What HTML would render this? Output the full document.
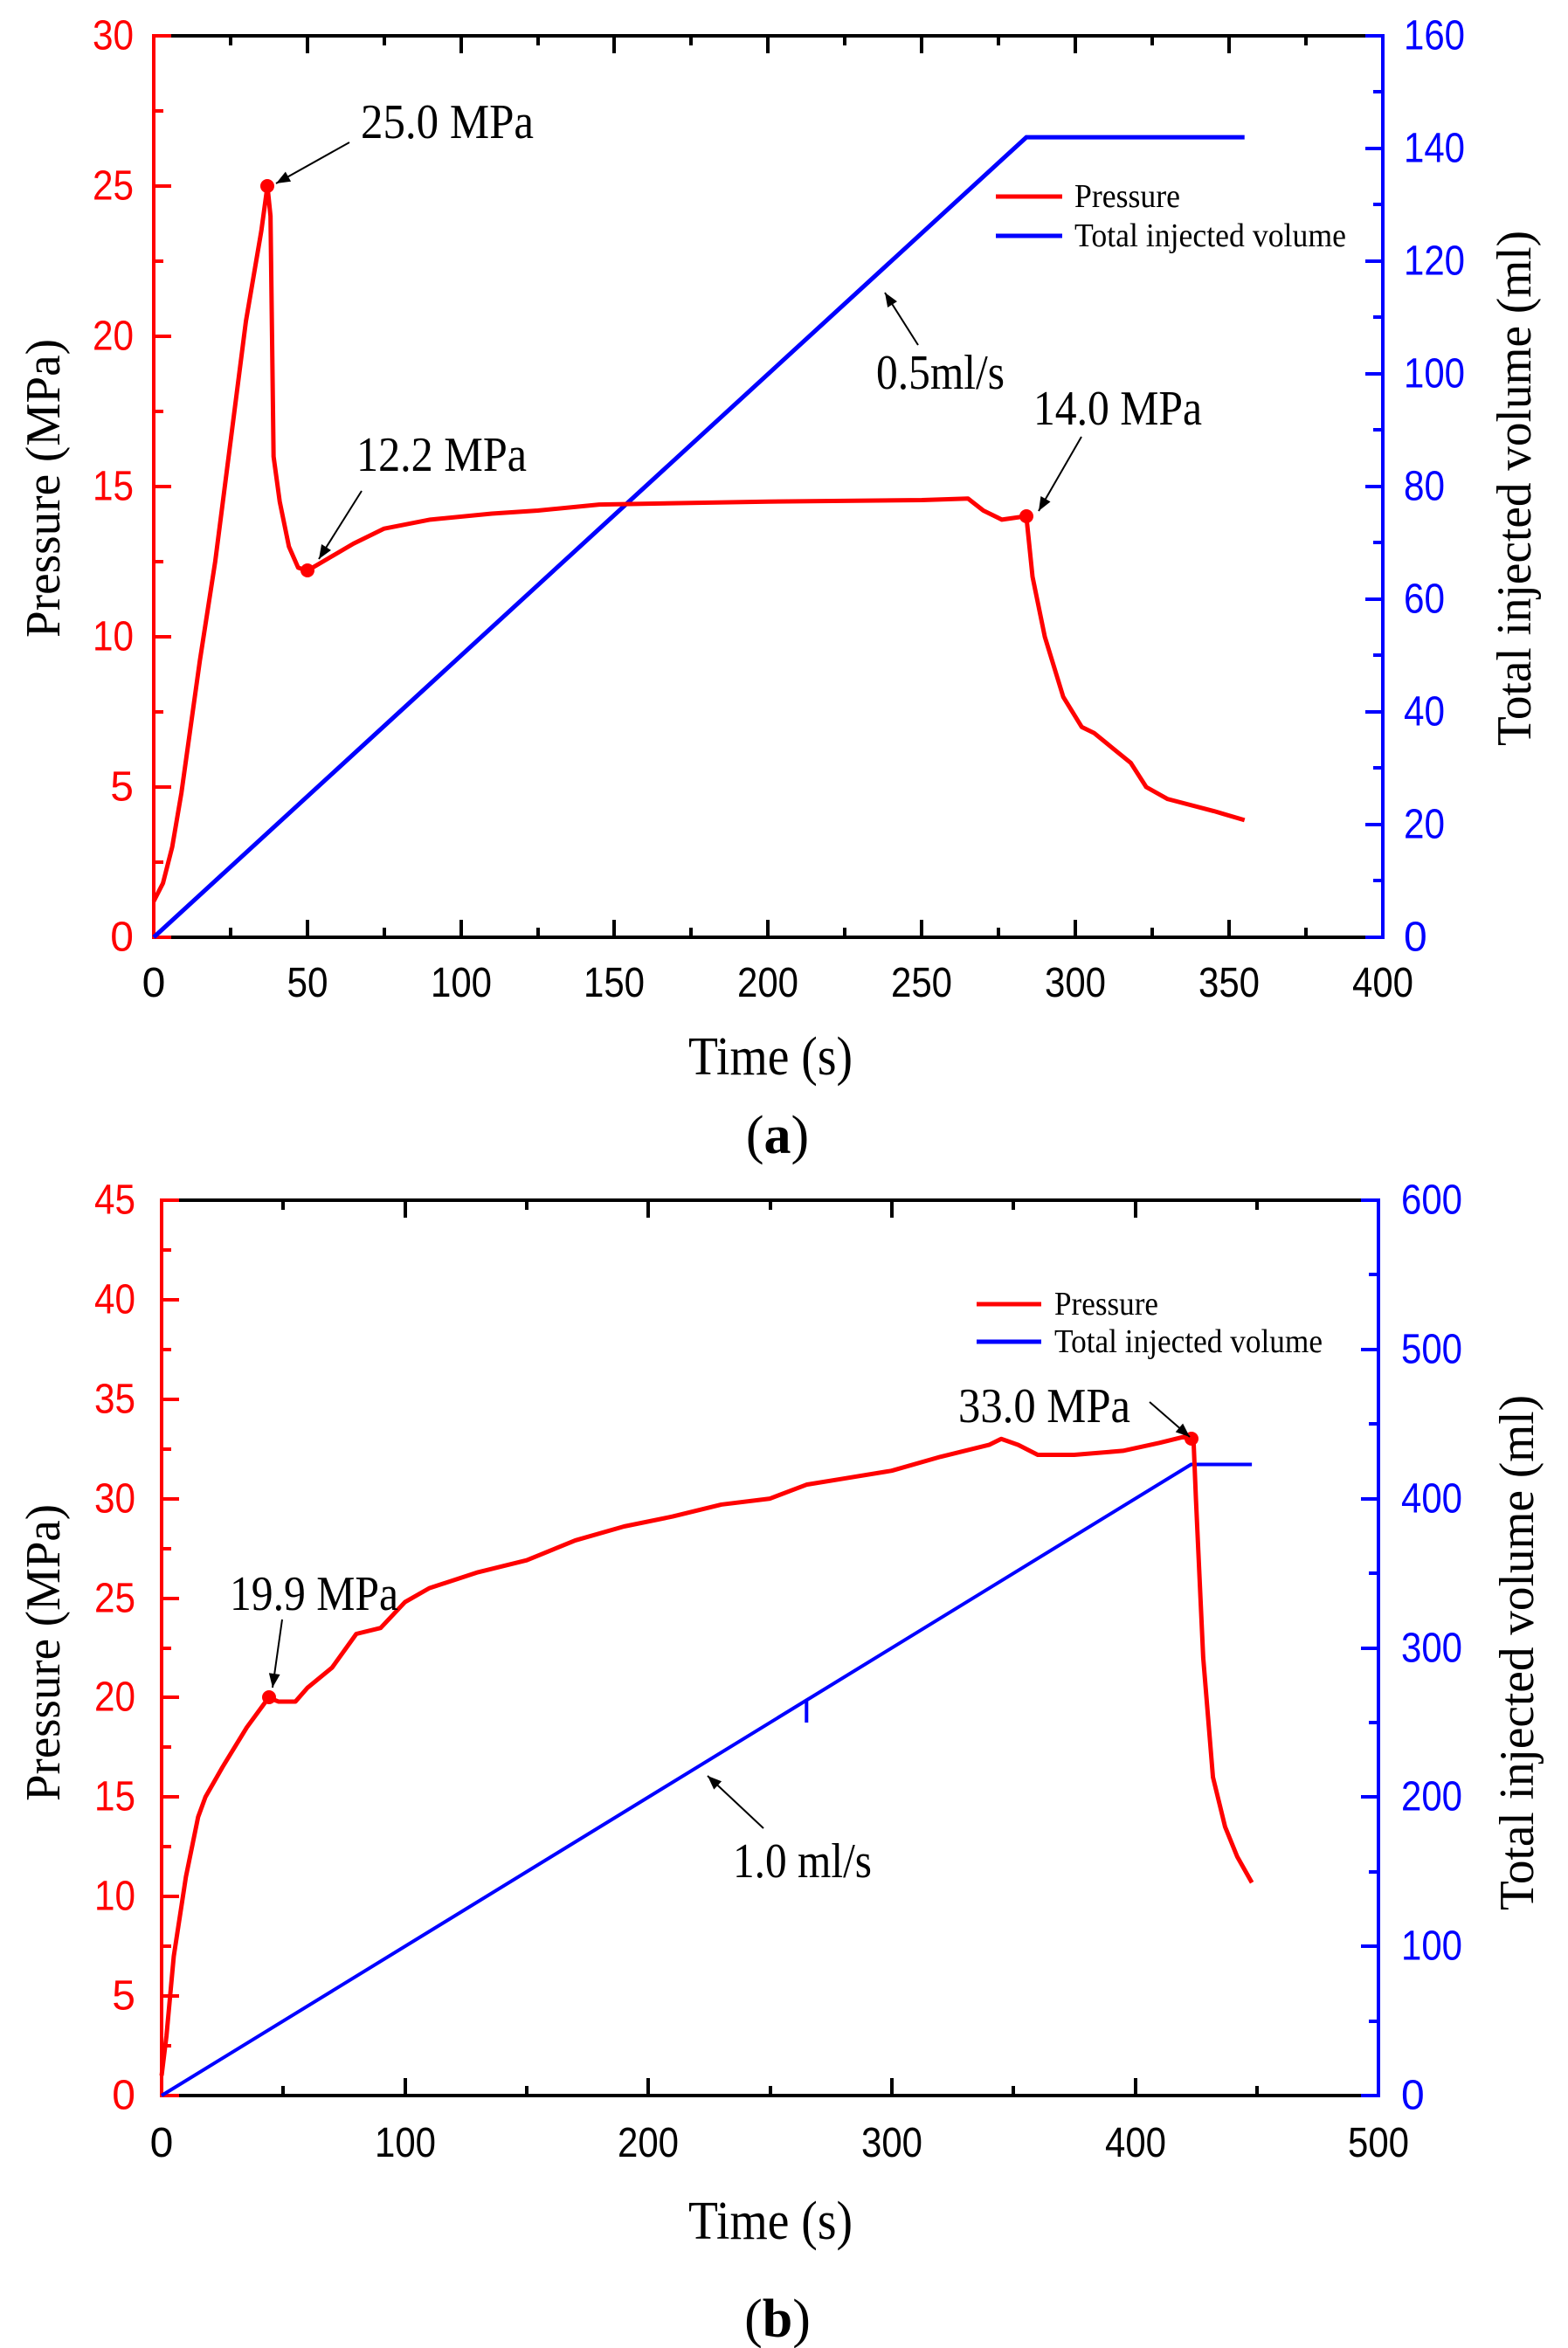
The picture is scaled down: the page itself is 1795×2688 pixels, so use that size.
<!DOCTYPE html>
<html><head><meta charset="utf-8"><style>
html,body{margin:0;padding:0;background:#fff;}
svg{display:block;}
.tk{font-family:"Liberation Sans",Arial,sans-serif;font-size:48px;}
.tt{font-family:"Liberation Serif","Times New Roman",serif;}
</style></head><body>
<svg width="1795" height="2688" viewBox="0 0 1795 2688" xmlns="http://www.w3.org/2000/svg">
<defs>
<marker id="ah2" viewBox="0 0 10 10" refX="10" refY="5" markerWidth="24" markerHeight="16" orient="auto" markerUnits="userSpaceOnUse"><path d="M0,1 L10,5 L0,9 z" fill="#000"/></marker>
</defs>

<!-- ================= CHART A ================= -->
<g stroke-width="4" fill="none">
<line x1="176" y1="41" x2="1583" y2="41" stroke="#000"/>
<line x1="176" y1="1073" x2="1583" y2="1073" stroke="#000"/>
<line x1="176" y1="39" x2="176" y2="1075" stroke="#f00"/>
<line x1="1583" y1="39" x2="1583" y2="1075" stroke="#00f"/>
<path stroke="#000" d="M352,1073v-20M528,1073v-20M703,1073v-20M879,1073v-20M1055,1073v-20M1231,1073v-20M1407,1073v-20
M264,1073v-11M440,1073v-11M616,1073v-11M791,1073v-11M967,1073v-11M1143,1073v-11M1319,1073v-11M1495,1073v-11
M352,41v20M528,41v20M703,41v20M879,41v20M1055,41v20M1231,41v20M1407,41v20
M264,41v11M440,41v11M616,41v11M791,41v11M967,41v11M1143,41v11M1319,41v11M1495,41v11"/>
<path stroke="#f00" d="M176,901h20M176,729h20M176,557h20M176,385h20M176,213h20M176,41h20M176,1073h20
M176,987h11M176,815h11M176,643h11M176,471h11M176,299h11M176,127h11"/>
<path stroke="#00f" d="M1583,944h-20M1583,815h-20M1583,686h-20M1583,557h-20M1583,428h-20M1583,299h-20M1583,170h-20M1583,41h-20M1583,1073h-20
M1583,1008h-11M1583,879h-11M1583,750h-11M1583,621h-11M1583,492h-11M1583,363h-11M1583,234h-11M1583,105h-11"/>
</g>
<polyline transform="matrix(3.5175 0 0 -6.45 176 1073)" vector-effect="non-scaling-stroke" fill="none" stroke="#00f" stroke-width="5" points="0,0 284,142 355,142"/>
<polyline transform="matrix(3.5175 0 0 -34.4 176 1073)" vector-effect="non-scaling-stroke" fill="none" stroke="#f00" stroke-width="5" stroke-linejoin="round" points="0,1.2 3,1.8 6,3 9,4.8 12,7 15,9.2 20,12.5 25,16.5 30,20.5 35,23.5 37,25 38,24 39,16 41,14.5 44,13 47,12.3 50,12.2 55,12.5 65,13.1 75,13.6 90,13.9 110,14.1 125,14.2 145,14.4 200,14.5 250,14.55 265,14.6 270,14.2 276,13.9 283,14.0 284,14.0 286,12 290,10 296,8 302,7 306,6.8 312,6.3 318,5.8 323,5.0 330,4.6 345,4.2 355,3.9"/>
<g fill="#f00"><circle cx="306" cy="213" r="8"/><circle cx="352" cy="653" r="8"/><circle cx="1175" cy="591" r="8"/></g>
<g stroke="#000" stroke-width="2" fill="none">
<line x1="400" y1="163" x2="316" y2="210" marker-end="url(#ah2)"/>
<line x1="414" y1="562" x2="365" y2="640" marker-end="url(#ah2)"/>
<line x1="1238" y1="500" x2="1189" y2="585" marker-end="url(#ah2)"/>
<line x1="1051" y1="395" x2="1013" y2="335" marker-end="url(#ah2)"/>
</g>
<g class="tt" font-size="56" fill="#000" lengthAdjust="spacingAndGlyphs">
<text x="413" y="158" textLength="198" lengthAdjust="spacingAndGlyphs">25.0 MPa</text>
<text x="408" y="539" textLength="195" lengthAdjust="spacingAndGlyphs">12.2 MPa</text>
<text x="1183" y="486" textLength="193" lengthAdjust="spacingAndGlyphs">14.0 MPa</text>
<text x="1003" y="445" textLength="147" lengthAdjust="spacingAndGlyphs">0.5ml/s</text>
</g>
<line x1="1140" y1="225" x2="1216" y2="225" stroke="#f00" stroke-width="5"/>
<line x1="1140" y1="270" x2="1216" y2="270" stroke="#00f" stroke-width="5"/>
<text class="tt" x="1230" y="237" font-size="38" textLength="121" lengthAdjust="spacingAndGlyphs">Pressure</text>
<text class="tt" x="1230" y="282" font-size="38" textLength="311" lengthAdjust="spacingAndGlyphs">Total injected volume</text>
<g class="tk" fill="#f00" text-anchor="end" dominant-baseline="central">
<text x="153" y="1073">0</text><text x="153" y="901">5</text><text x="153" y="729" textLength="47" lengthAdjust="spacingAndGlyphs">10</text><text x="153" y="557" textLength="47" lengthAdjust="spacingAndGlyphs">15</text><text x="153" y="385" textLength="47" lengthAdjust="spacingAndGlyphs">20</text><text x="153" y="213" textLength="47" lengthAdjust="spacingAndGlyphs">25</text><text x="153" y="41" textLength="47" lengthAdjust="spacingAndGlyphs">30</text>
</g>
<g class="tk" fill="#00f" dominant-baseline="central">
<text x="1607" y="1073">0</text><text x="1607" y="944" textLength="47" lengthAdjust="spacingAndGlyphs">20</text><text x="1607" y="815" textLength="47" lengthAdjust="spacingAndGlyphs">40</text><text x="1607" y="686" textLength="47" lengthAdjust="spacingAndGlyphs">60</text><text x="1607" y="557" textLength="47" lengthAdjust="spacingAndGlyphs">80</text><text x="1607" y="428" textLength="70" lengthAdjust="spacingAndGlyphs">100</text><text x="1607" y="299" textLength="70" lengthAdjust="spacingAndGlyphs">120</text><text x="1607" y="170" textLength="70" lengthAdjust="spacingAndGlyphs">140</text><text x="1607" y="41" textLength="70" lengthAdjust="spacingAndGlyphs">160</text>
</g>
<g class="tk" fill="#000" text-anchor="middle">
<text x="176" y="1141">0</text><text x="352" y="1141" textLength="47" lengthAdjust="spacingAndGlyphs">50</text><text x="528" y="1141" textLength="70" lengthAdjust="spacingAndGlyphs">100</text><text x="703" y="1141" textLength="70" lengthAdjust="spacingAndGlyphs">150</text><text x="879" y="1141" textLength="70" lengthAdjust="spacingAndGlyphs">200</text><text x="1055" y="1141" textLength="70" lengthAdjust="spacingAndGlyphs">250</text><text x="1231" y="1141" textLength="70" lengthAdjust="spacingAndGlyphs">300</text><text x="1407" y="1141" textLength="70" lengthAdjust="spacingAndGlyphs">350</text><text x="1583" y="1141" textLength="70" lengthAdjust="spacingAndGlyphs">400</text>
</g>
<g class="tt" fill="#000" font-size="62" text-anchor="middle">
<text x="882" y="1230" textLength="188" lengthAdjust="spacingAndGlyphs">Time (s)</text>
<text transform="translate(68,559) rotate(-90)" font-size="56" textLength="342" lengthAdjust="spacingAndGlyphs">Pressure (MPa)</text>
<text transform="translate(1752,559) rotate(-90)" font-size="56" textLength="590" lengthAdjust="spacingAndGlyphs">Total injected volume (ml)</text>
<text x="890" y="1320">(<tspan font-weight="bold">a</tspan>)</text>
</g>

<!-- ================= CHART B ================= -->
<g stroke-width="4" fill="none">
<line x1="185" y1="1374" x2="1578" y2="1374" stroke="#000"/>
<line x1="185" y1="2399" x2="1578" y2="2399" stroke="#000"/>
<line x1="185" y1="1372" x2="185" y2="2401" stroke="#f00"/>
<line x1="1578" y1="1372" x2="1578" y2="2401" stroke="#00f"/>
<path stroke="#000" d="M464,2399v-20M742,2399v-20M1021,2399v-20M1300,2399v-20
M324,2399v-11M603,2399v-11M882,2399v-11M1160,2399v-11M1439,2399v-11
M464,1374v20M742,1374v20M1021,1374v20M1300,1374v20
M324,1374v11M603,1374v11M882,1374v11M1160,1374v11M1439,1374v11"/>
<path stroke="#f00" d="M185,2285h20M185,2171h20M185,2057h20M185,1943h20M185,1830h20M185,1716h20M185,1602h20M185,1488h20M185,1374h20M185,2399h20
M185,2342h11M185,2228h11M185,2114h11M185,2000h11M185,1887h11M185,1773h11M185,1659h11M185,1545h11M185,1431h11"/>
<path stroke="#00f" d="M1578,2228h-20M1578,2057h-20M1578,1887h-20M1578,1716h-20M1578,1545h-20M1578,1374h-20M1578,2399h-20
M1578,2314h-11M1578,2143h-11M1578,1972h-11M1578,1801h-11M1578,1630h-11M1578,1459h-11"/>
</g>
<polyline transform="matrix(2.786 0 0 -1.708 185 2399)" vector-effect="non-scaling-stroke" fill="none" stroke="#00f" stroke-width="4" points="0,0 265,265 265,250 265,265 423,423 448,423"/>
<polyline transform="matrix(2.786 0 0 -22.78 185 2399)" vector-effect="non-scaling-stroke" fill="none" stroke="#f00" stroke-width="5" stroke-linejoin="round" points="0,1 2,3 5,7 10,11 15,14 18,15 25,16.5 35,18.5 44,20 48,19.8 55,19.8 60,20.5 70,21.5 80,23.2 90,23.5 100,24.8 110,25.5 130,26.3 150,26.9 170,27.9 190,28.6 210,29.1 230,29.7 250,30.0 265,30.7 280,31 300,31.4 320,32.1 340,32.7 345,33 352,32.7 360,32.2 375,32.2 395,32.4 410,32.8 420,33.1 424,33.0 425,30 428,22 432,16 437,13.5 442,12 448,10.7"/>
<g fill="#f00"><circle cx="308" cy="1943" r="8"/><circle cx="1364" cy="1647" r="8"/></g>
<g stroke="#000" stroke-width="2" fill="none">
<line x1="323" y1="1854" x2="312" y2="1932" marker-end="url(#ah2)"/>
<line x1="1316" y1="1605" x2="1362" y2="1645" marker-end="url(#ah2)"/>
<line x1="874" y1="2093" x2="810" y2="2033" marker-end="url(#ah2)"/>
</g>
<g class="tt" font-size="56" fill="#000">
<text x="263" y="1843" textLength="193" lengthAdjust="spacingAndGlyphs">19.9 MPa</text>
<text x="1097" y="1628" textLength="197" lengthAdjust="spacingAndGlyphs">33.0 MPa</text>
<text x="839" y="2149" textLength="159" lengthAdjust="spacingAndGlyphs">1.0 ml/s</text>
</g>
<line x1="1118" y1="1493" x2="1192" y2="1493" stroke="#f00" stroke-width="5"/>
<line x1="1118" y1="1536" x2="1192" y2="1536" stroke="#00f" stroke-width="5"/>
<text class="tt" x="1207" y="1505" font-size="38" textLength="119" lengthAdjust="spacingAndGlyphs">Pressure</text>
<text class="tt" x="1207" y="1548" font-size="38" textLength="307" lengthAdjust="spacingAndGlyphs">Total injected volume</text>
<g class="tk" fill="#f00" text-anchor="end" dominant-baseline="central">
<text x="155" y="2399">0</text><text x="155" y="2285">5</text><text x="155" y="2171" textLength="47" lengthAdjust="spacingAndGlyphs">10</text><text x="155" y="2057" textLength="47" lengthAdjust="spacingAndGlyphs">15</text><text x="155" y="1943" textLength="47" lengthAdjust="spacingAndGlyphs">20</text><text x="155" y="1830" textLength="47" lengthAdjust="spacingAndGlyphs">25</text><text x="155" y="1716" textLength="47" lengthAdjust="spacingAndGlyphs">30</text><text x="155" y="1602" textLength="47" lengthAdjust="spacingAndGlyphs">35</text><text x="155" y="1488" textLength="47" lengthAdjust="spacingAndGlyphs">40</text><text x="155" y="1374" textLength="47" lengthAdjust="spacingAndGlyphs">45</text>
</g>
<g class="tk" fill="#00f" dominant-baseline="central">
<text x="1604" y="2399">0</text><text x="1604" y="2228" textLength="70" lengthAdjust="spacingAndGlyphs">100</text><text x="1604" y="2057" textLength="70" lengthAdjust="spacingAndGlyphs">200</text><text x="1604" y="1887" textLength="70" lengthAdjust="spacingAndGlyphs">300</text><text x="1604" y="1716" textLength="70" lengthAdjust="spacingAndGlyphs">400</text><text x="1604" y="1545" textLength="70" lengthAdjust="spacingAndGlyphs">500</text><text x="1604" y="1374" textLength="70" lengthAdjust="spacingAndGlyphs">600</text>
</g>
<g class="tk" fill="#000" text-anchor="middle">
<text x="185" y="2469">0</text><text x="464" y="2469" textLength="70" lengthAdjust="spacingAndGlyphs">100</text><text x="742" y="2469" textLength="70" lengthAdjust="spacingAndGlyphs">200</text><text x="1021" y="2469" textLength="70" lengthAdjust="spacingAndGlyphs">300</text><text x="1300" y="2469" textLength="70" lengthAdjust="spacingAndGlyphs">400</text><text x="1578" y="2469" textLength="70" lengthAdjust="spacingAndGlyphs">500</text>
</g>
<g class="tt" fill="#000" font-size="62" text-anchor="middle">
<text x="882" y="2563" textLength="188" lengthAdjust="spacingAndGlyphs">Time (s)</text>
<text transform="translate(68,1892) rotate(-90)" font-size="56" textLength="340" lengthAdjust="spacingAndGlyphs">Pressure (MPa)</text>
<text transform="translate(1755,1892) rotate(-90)" font-size="56" textLength="590" lengthAdjust="spacingAndGlyphs">Total injected volume (ml)</text>
<text x="890" y="2675">(<tspan font-weight="bold">b</tspan>)</text>
</g>
</svg>
</body></html>
